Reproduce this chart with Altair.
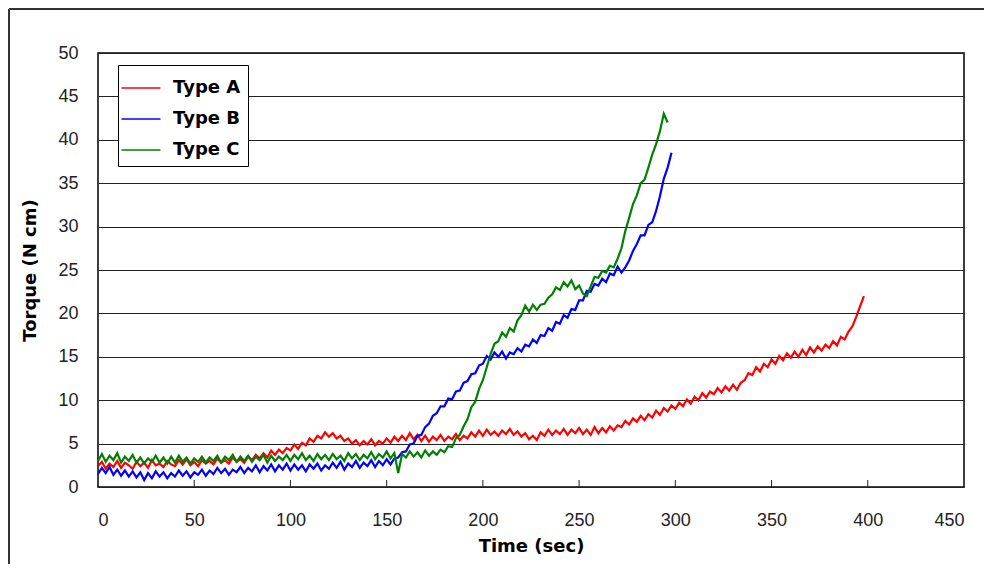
import altair as alt
import pandas as pd

# ---- data (2-second samples) ----
series_names = ["Type A", "Type B", "Type C"]
series_colors = ["#FF0000", "#0000FF", "#008000"]

type_a = [
    2.4, 2.9, 2.1, 2.7, 2.3, 3.0, 2.2, 2.8, 2.5, 2.1,
    2.9, 2.4, 2.8, 2.2, 3.1, 2.5, 2.7, 2.3, 3.0, 2.6,
    2.4, 3.1, 2.6, 3.2, 2.5, 2.9, 2.4, 3.1, 2.7, 3.0,
    2.6, 3.3, 2.8, 3.1, 2.7, 3.4, 2.9, 3.2, 2.8, 3.5,
    3.1, 3.7, 3.3, 3.9, 3.4, 4.2, 3.7, 4.3, 3.9, 4.5,
    4.2, 4.9, 4.4, 5.1, 4.8, 5.6, 5.2, 5.9, 5.6, 6.3,
    5.8, 6.2, 5.6, 5.9, 5.3, 5.6, 5.0, 5.4, 4.8, 5.3,
    4.9, 5.5, 4.8, 5.3, 5.0, 5.6, 5.1, 5.8, 5.3, 5.9,
    5.4, 6.2, 5.5, 6.0, 5.3, 5.9, 5.2, 5.8, 5.4, 6.0,
    5.3, 5.8, 5.5, 6.1, 5.4, 5.9, 5.6, 6.3, 5.8, 6.5,
    5.9, 6.6, 6.0, 6.4, 5.9, 6.5, 6.1, 6.7, 6.0, 6.4,
    5.8, 6.2, 5.5, 5.9, 5.4, 6.3, 5.9, 6.6, 6.0, 6.5,
    6.1, 6.7, 6.0, 6.6, 6.2, 6.8, 6.1, 6.6, 6.0, 6.9,
    6.2, 6.8, 6.3, 7.0, 6.5, 7.1, 6.9, 7.6, 7.2, 7.9,
    7.5, 8.2, 7.7, 8.4, 8.0, 8.8, 8.3, 9.1, 8.7, 9.4,
    9.0, 9.7, 9.3, 10.1, 9.6, 10.4, 10.0, 10.8, 10.3, 11.0,
    10.7, 11.4, 10.9, 11.6, 11.1, 11.8, 11.2, 12.0, 12.3, 13.1,
    12.9, 13.8, 13.3, 14.2, 13.8, 14.7, 14.2, 15.1, 14.6, 15.4,
    14.9, 15.6, 15.0, 15.8, 15.2, 16.1, 15.5, 16.2, 15.7, 16.4,
    16.0, 16.8, 16.3, 17.3, 17.0, 17.9, 18.5, 19.6, 20.8, 22.0,
]

type_b = [
    1.5, 2.2, 1.6, 2.3, 1.4, 2.0, 1.3, 1.9, 1.2, 1.8,
    1.1, 1.7, 0.8, 1.6, 1.0, 1.8, 1.2, 1.7, 1.0, 1.6,
    1.2, 1.9, 1.3, 1.8, 1.1, 1.7, 1.4, 2.0, 1.3, 1.9,
    1.5, 2.2, 1.6, 2.1, 1.4, 2.0, 1.7, 2.3, 1.6, 2.2,
    1.8, 2.5, 1.7, 2.4, 1.9, 2.6, 1.8, 2.5, 2.0, 2.7,
    1.9, 2.6, 2.0, 2.5, 1.8, 2.6, 2.1, 2.7, 1.9, 2.5,
    2.1, 2.8, 2.2, 2.9, 2.0, 2.7, 2.3, 3.0, 2.2, 2.8,
    2.4, 3.1, 2.3, 3.0, 2.5, 3.2, 2.6, 3.3, 3.4, 4.0,
    4.1, 4.9, 5.0, 5.9, 6.0, 6.9, 7.3, 8.2, 8.5, 9.3,
    9.3, 10.2, 10.1, 11.0, 11.1, 12.0, 12.2, 13.0, 13.1, 14.0,
    14.2, 15.1, 14.7, 15.5, 15.0, 15.6, 14.8, 15.5, 15.3, 16.0,
    15.6, 16.4, 16.2, 17.0, 16.6, 17.5, 17.4, 18.3, 18.0, 19.0,
    18.8, 19.8, 19.5, 20.5, 20.4, 21.5, 21.5, 22.6, 22.5, 23.4,
    23.2, 24.0, 23.6, 24.6, 24.4, 25.4, 24.7, 25.3, 26.1, 27.2,
    28.0, 29.0, 29.0, 30.2, 30.5, 31.8, 33.5, 35.5, 36.8, 38.5,
]

type_c = [
    3.0, 3.8, 2.9, 3.6, 3.1, 3.9, 2.8, 3.5, 3.0, 3.7,
    2.8, 3.4, 2.7, 3.3, 2.9, 3.6, 2.8, 3.4, 2.7, 3.5,
    2.8, 3.6, 2.9, 3.4, 2.7, 3.3, 2.9, 3.5, 2.8, 3.4,
    3.0, 3.6, 2.8, 3.5, 3.1, 3.7, 2.9, 3.5, 3.0, 3.6,
    2.9, 3.5, 3.1, 3.7, 2.8, 3.6, 3.0, 3.5, 3.1, 3.7,
    3.0, 3.7, 3.2, 3.9, 3.1, 3.6, 3.0, 3.8, 3.2, 3.7,
    3.1, 3.8, 3.2, 3.6, 3.0, 3.9, 3.3, 3.8, 3.1, 3.7,
    3.3, 4.0, 3.2, 3.8, 3.4, 4.1, 3.3, 3.9, 1.6, 3.8,
    3.4, 4.1, 3.5, 4.0, 3.4, 4.2, 3.6, 4.1, 3.7, 4.3,
    4.0, 4.7, 4.6, 5.6, 6.0, 7.0, 7.8, 9.2, 9.8, 11.3,
    12.3, 13.8, 15.3, 16.5, 16.8, 17.8, 17.3, 18.3, 17.9, 19.2,
    19.8, 20.9, 20.2, 21.0, 20.4, 21.0, 21.1, 21.8, 22.2, 23.0,
    22.7, 23.6, 23.1, 23.8, 22.8, 23.2, 22.3, 22.0, 23.1, 24.2,
    24.1, 24.9, 24.7, 25.5, 25.3, 26.3, 27.5, 29.5, 31.0, 32.6,
    33.6, 35.0, 35.4, 36.8, 38.3, 39.5, 41.0, 43.0, 42.0,
]

step_sec = 2
x_ticks = [50, 100, 150, 200, 250, 300, 350, 400]

rows = []
for name, vals in zip(series_names, [type_a, type_b, type_c]):
    for i, v in enumerate(vals):
        rows.append({"series": name, "t": i * step_sec, "torque": v, "order": i})
df = pd.DataFrame(rows)

W, H = 866, 434
LABEL_FONT = "Liberation Sans"
TITLE_FONT = "DejaVu Sans"

x_scale = alt.Scale(domain=[0, 450], nice=False)
y_scale = alt.Scale(domain=[0, 50], nice=False)

lines = alt.Chart(df).mark_line(strokeWidth=2.2, clip=True).encode(
    x=alt.X("t:Q", scale=x_scale,
            axis=alt.Axis(title="Time (sec)", values=list(range(0, 451, 50)),
                          grid=False, ticks=False, domain=False,
                          labelFont=LABEL_FONT, labelFontSize=18, labelColor="#222",
                          labelPadding=24, titleFont=TITLE_FONT, titleFontSize=18,
                          titleFontWeight="bold", titleColor="#000", titlePadding=8)),
    y=alt.Y("torque:Q", scale=y_scale,
            axis=alt.Axis(title="Torque (N cm)", values=list(range(0, 51, 5)),
                          grid=True, gridColor="#222", gridWidth=1, ticks=False,
                          domain=False, labelFont=LABEL_FONT, labelFontSize=18,
                          labelColor="#222", labelPadding=20,
                          titleFont=TITLE_FONT, titleFontSize=18, titleFontWeight="bold",
                          titleColor="#000", titlePadding=18)),
    color=alt.Color("series:N",
                    scale=alt.Scale(domain=series_names, range=series_colors),
                    legend=alt.Legend(title=None, orient="none", legendX=20, legendY=12,
                                      fillColor="white", strokeColor="#000",
                                      padding=7, symbolType="M-1.3,0H1.3",
                                      symbolSize=900, symbolStrokeWidth=1.3,
                                      labelFont=TITLE_FONT, labelFontSize=18,
                                      labelFontWeight="bold", labelColor="#000",
                                      labelOffset=16, rowPadding=6)),
    order="order:Q",
)

ticks = alt.Chart(pd.DataFrame({"x": x_ticks})).mark_rule(color="#222", strokeWidth=1).encode(
    x=alt.X("x:Q", scale=x_scale),
    y=alt.value(H - 7),
    y2=alt.value(H),
)

# outer figure frame (decoration): top and left edges
frame_df = pd.DataFrame({"k": [0]})
frame_top = alt.Chart(frame_df).mark_rule(color="#333", strokeWidth=2).encode(
    x=alt.value(-89), x2=alt.value(900), y=alt.value(-44)
)
frame_left = alt.Chart(frame_df).mark_rule(color="#333", strokeWidth=2).encode(
    x=alt.value(-89), y=alt.value(-44), y2=alt.value(540)
)

chart = alt.layer(lines, ticks, frame_top, frame_left).properties(
    width=W, height=H,
    autosize=alt.AutoSizeParams(type="none"),
    padding={"left": 90, "top": 45, "right": 20, "bottom": 77},
    background="white",
).configure_view(stroke="#000", strokeWidth=1.5)

chart.save("out.html", embed_options={"renderer": "svg", "actions": False})
